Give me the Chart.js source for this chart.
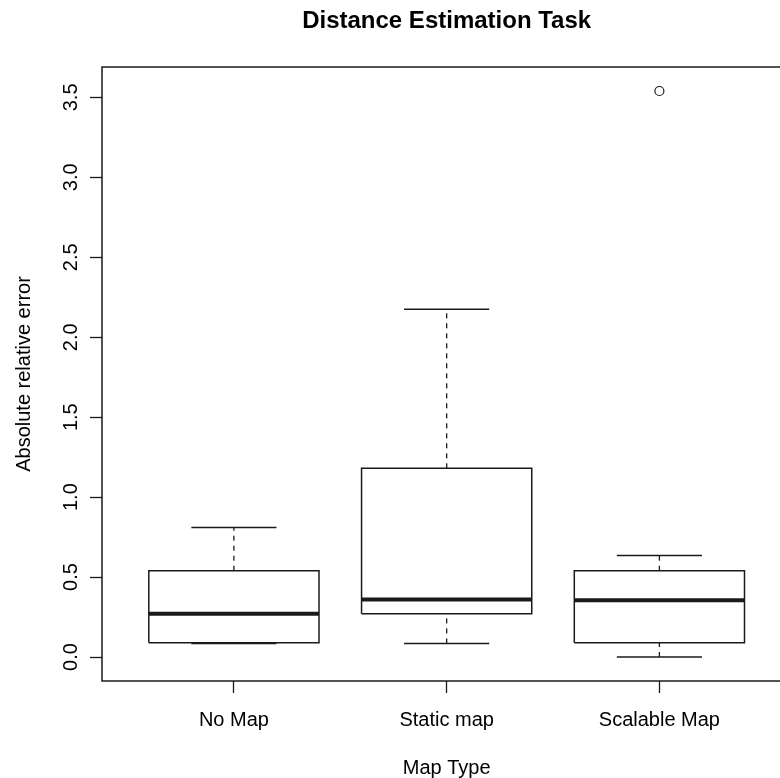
<!DOCTYPE html>
<html>
<head>
<meta charset="utf-8">
<script src="https://cdn.jsdelivr.net/npm/chart.js@4.4.1/dist/chart.umd.min.js"></script>
<style>
  html, body { margin: 0; padding: 0; background: #fff; overflow: hidden; }
  #wrap { width: 797px; height: 778px; }
</style>
</head>
<body>
<div id="wrap"><canvas id="box-chart" width="797" height="778"></canvas></div>
<script>
// Boxplot values
var categories = ['No Map', 'Static map', 'Scalable Map'];
var whiskerLow = [0.085, 0.085, 0.0];
var q1 = [0.09, 0.27, 0.09];
var medians = [0.27, 0.36, 0.355];
var q3 = [0.54, 1.18, 0.54];
var whiskerHigh = [0.81, 2.175, 0.635];
var outliers = [[], [], [3.54]];
var yTicks = [0, 0.5, 1, 1.5, 2, 2.5, 3, 3.5];

var ink = '#1a1a1a';
var boxHalf = 0.4;   // half box width, in category units
var capHalf = 0.2;   // half staple width

Chart.defaults.font.family = '"Liberation Sans", Arial, sans-serif';
Chart.defaults.color = '#000';

function segment(points, width, dash) {
  return {
    data: points,
    showLine: true,
    borderColor: ink,
    borderWidth: width,
    borderDash: dash || [],
    borderCapStyle: 'butt',
    borderJoinStyle: 'miter',
    pointRadius: 0,
    pointHoverRadius: 0,
    tension: 0,
    fill: false
  };
}

var datasets = [];
categories.forEach(function (c, i) {
  var x = i + 1;
  // box
  datasets.push(segment([
    {x: x - boxHalf, y: q1[i]}, {x: x + boxHalf, y: q1[i]},
    {x: x + boxHalf, y: q3[i]}, {x: x - boxHalf, y: q3[i]},
    {x: x - boxHalf, y: q1[i]}
  ], 1.5));
  // median
  datasets.push(segment([{x: x - boxHalf, y: medians[i]}, {x: x + boxHalf, y: medians[i]}], 4));
  // whiskers (dashed)
  datasets.push(segment([{x: x, y: q3[i]}, {x: x, y: whiskerHigh[i]}], 1.3, [5, 5]));
  datasets.push(segment([{x: x, y: whiskerLow[i]}, {x: x, y: q1[i]}], 1.3, [5, 5]));
  // staples
  datasets.push(segment([{x: x - capHalf, y: whiskerHigh[i]}, {x: x + capHalf, y: whiskerHigh[i]}], 1.5));
  datasets.push(segment([{x: x - capHalf, y: whiskerLow[i]}, {x: x + capHalf, y: whiskerLow[i]}], 1.5));
  // outliers
  if (outliers[i].length) {
    datasets.push({
      data: outliers[i].map(function (v) { return {x: x, y: v}; }),
      showLine: false,
      pointStyle: 'circle',
      pointRadius: 4.5,
      pointHoverRadius: 4.5,
      pointBorderWidth: 1.2,
      pointBorderColor: ink,
      pointBackgroundColor: '#fff'
    });
  }
});

// frame round the plot region, like R's box()
var framePlugin = {
  id: 'frame',
  afterDatasetsDraw: function (chart) {
    var a = chart.chartArea, ctx = chart.ctx;
    ctx.save();
    ctx.strokeStyle = ink;
    ctx.lineWidth = 1.5;
    ctx.strokeRect(a.left, a.top, a.right - a.left, a.bottom - a.top);
    ctx.restore();
  }
};

var ctx = document.getElementById('box-chart').getContext('2d');
new Chart(ctx, {
  type: 'scatter',
  data: { datasets: datasets },
  plugins: [framePlugin],
  options: {
    responsive: false,
    animation: false,
    layout: { padding: { left: 0, right: 1, top: 0, bottom: 0 } },
    plugins: {
      legend: { display: false },
      tooltip: { enabled: false },
      title: {
        display: true,
        text: 'Distance Estimation Task',
        fullSize: false,
        color: '#000',
        font: { size: 24, weight: 'bold' },
        padding: { top: 7, bottom: 31.2 }
      }
    },
    scales: {
      x: {
        type: 'linear',
        position: 'bottom',
        min: 0.38,
        max: 3.62,
        afterBuildTicks: function (scale) {
          scale.ticks = categories.map(function (c, i) { return {value: i + 1}; });
        },
        afterFit: function (scale) { scale.height = 97; },
        border: { display: false },
        grid: { drawOnChartArea: false, drawTicks: true, tickLength: 12, tickColor: ink, tickWidth: 1.3 },
        ticks: {
          autoSkip: false,
          maxRotation: 0,
          padding: 15,
          font: { size: 20 },
          callback: function (v, idx) { return categories[idx]; }
        },
        title: { display: true, text: 'Map Type', font: { size: 20 }, padding: { top: 0, bottom: -2 } }
      },
      y: {
        type: 'linear',
        min: -0.15,
        max: 3.69,
        afterBuildTicks: function (scale) {
          scale.ticks = yTicks.map(function (v) { return {value: v}; });
        },
        afterFit: function (scale) { scale.width = 102; },
        border: { display: false },
        grid: { drawOnChartArea: false, drawTicks: true, tickLength: 12, tickColor: ink, tickWidth: 1.3 },
        ticks: {
          minRotation: 90,
          maxRotation: 90,
          crossAlign: 'center',
          padding: 5,
          font: { size: 20 },
          callback: function (v) { return v.toFixed(1); }
        },
        title: { display: true, text: 'Absolute relative error', font: { size: 20 }, padding: { top: 12, bottom: 0 } }
      }
    }
  }
});
</script>
</body>
</html>
